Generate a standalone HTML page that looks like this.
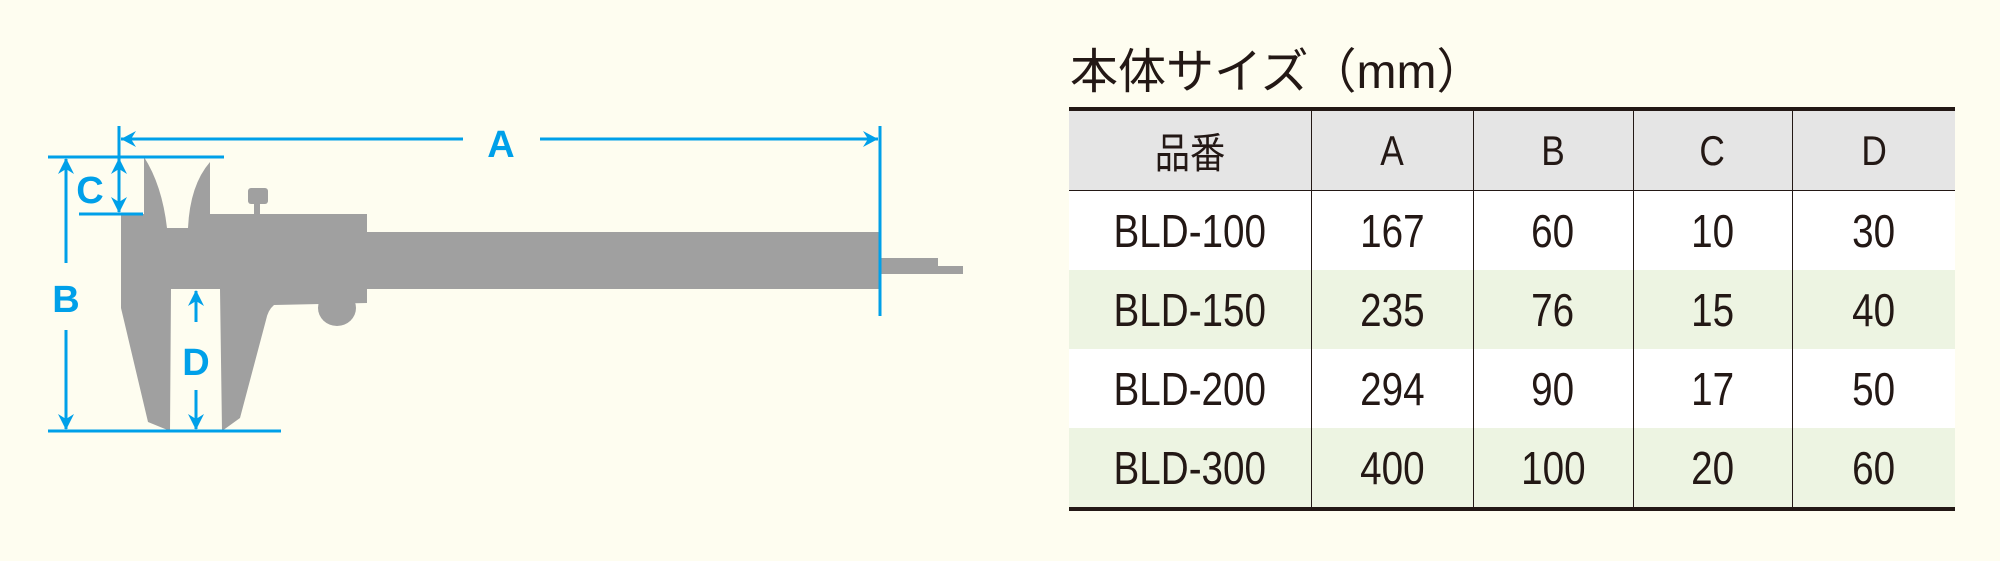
<!DOCTYPE html>
<html><head><meta charset="utf-8"><style>
html,body{margin:0;padding:0;background:#fefdf0;}
body{width:2000px;height:561px;position:relative;overflow:hidden;font-family:"Liberation Sans","Noto Sans CJK JP",sans-serif;}
.t{position:absolute;left:1070px;top:44px;font-size:48px;color:#231815;line-height:58px;white-space:nowrap;}
table{position:absolute;left:1069px;top:107px;width:886px;border-collapse:collapse;border-top:4px solid #231815;border-bottom:4px solid #231815;}
td{height:79px;text-align:center;font-size:46px;color:#231815;padding:0;border-left:1.5px solid #231815;border-top:1.5px solid #231815;}
td span{display:inline-block;transform:scaleX(0.84);}
td:first-child{border-left:none;}
tr:first-child td{border-top:none;background:#e5e5e5;font-size:42px;}
tr.g td{background:#edf4e2;border-top:none;}
tr.w td{background:#fff;border-top:none;}
tr.w1 td{background:#fff;}
</style></head><body>
<div class="t">本体サイズ（mm）</div>
<table>
<colgroup><col style="width:242px"><col style="width:162px"><col style="width:160px"><col style="width:159px"><col style="width:163px"></colgroup>
<tr><td><span>品番</span></td><td><span>A</span></td><td><span>B</span></td><td><span>C</span></td><td><span>D</span></td></tr>
<tr class="w1"><td><span>BLD-100</span></td><td><span>167</span></td><td><span>60</span></td><td><span>10</span></td><td><span>30</span></td></tr>
<tr class="g"><td><span>BLD-150</span></td><td><span>235</span></td><td><span>76</span></td><td><span>15</span></td><td><span>40</span></td></tr>
<tr class="w"><td><span>BLD-200</span></td><td><span>294</span></td><td><span>90</span></td><td><span>17</span></td><td><span>50</span></td></tr>
<tr class="g"><td><span>BLD-300</span></td><td><span>400</span></td><td><span>100</span></td><td><span>20</span></td><td><span>60</span></td></tr>
</table>
<svg width="1000" height="561" style="position:absolute;left:0;top:0">
<g fill="#a0a0a0">
<path d="M121,214 L144,214 L144,157 Q162,185 167,228 L188,228 Q190,185 210,162 L210,214 L367,214 L367,232 L880,232 L880,289 L367,289 L367,303 L274,305 Q268,310 266,320 L240,418 L222,431 L220,289 L171,289 L170,431 L148,422 L121,308 Z"/>
<ellipse cx="337" cy="308" rx="19" ry="18"/>
<rect x="248" y="188" width="20" height="16" rx="3"/>
<rect x="254" y="203" width="6" height="12"/>
<path d="M880,258 L938,258 L938,266 L963,266 L963,274 L880,274 Z"/>
</g>
<g stroke="#00a0e9" stroke-width="3" fill="none">
<line x1="119" y1="126" x2="119" y2="160"/>
<line x1="880" y1="126" x2="880" y2="316"/>
<line x1="121" y1="139" x2="463" y2="139"/>
<line x1="540" y1="139" x2="878" y2="139"/>
<line x1="48" y1="157" x2="224" y2="157"/>
<line x1="79" y1="214" x2="143" y2="214"/>
<line x1="48" y1="431" x2="281" y2="431"/>
<line x1="66" y1="159" x2="66" y2="263"/>
<line x1="66" y1="330" x2="66" y2="429"/>
<line x1="119" y1="159" x2="119" y2="212"/>
<line x1="196" y1="291" x2="196" y2="322"/>
<line x1="196" y1="390" x2="196" y2="429"/>
</g>
<g fill="#00a0e9">
<path d="M121,139 L136,131 L131,139 L136,147 Z"/>
<path d="M878,139 L863,131 L868,139 L863,147 Z"/>
<path d="M66,158 L58,174 L66,169 L74,174 Z"/>
<path d="M66,430 L58,414 L66,419 L74,414 Z"/>
<path d="M119,158 L111,174 L119,169 L127,174 Z"/>
<path d="M119,213 L111,197 L119,202 L127,197 Z"/>
<path d="M196,290 L188,306 L196,301 L204,306 Z"/>
<path d="M196,430 L188,414 L196,419 L204,414 Z"/>
</g>
<g fill="#00a0e9" font-family="Liberation Sans" font-weight="bold" font-size="38" text-anchor="middle">
<text x="501" y="157">A</text>
<text x="66" y="312">B</text>
<text x="90" y="203">C</text>
<text x="196" y="375">D</text>
</g>
</svg>
</body></html>
